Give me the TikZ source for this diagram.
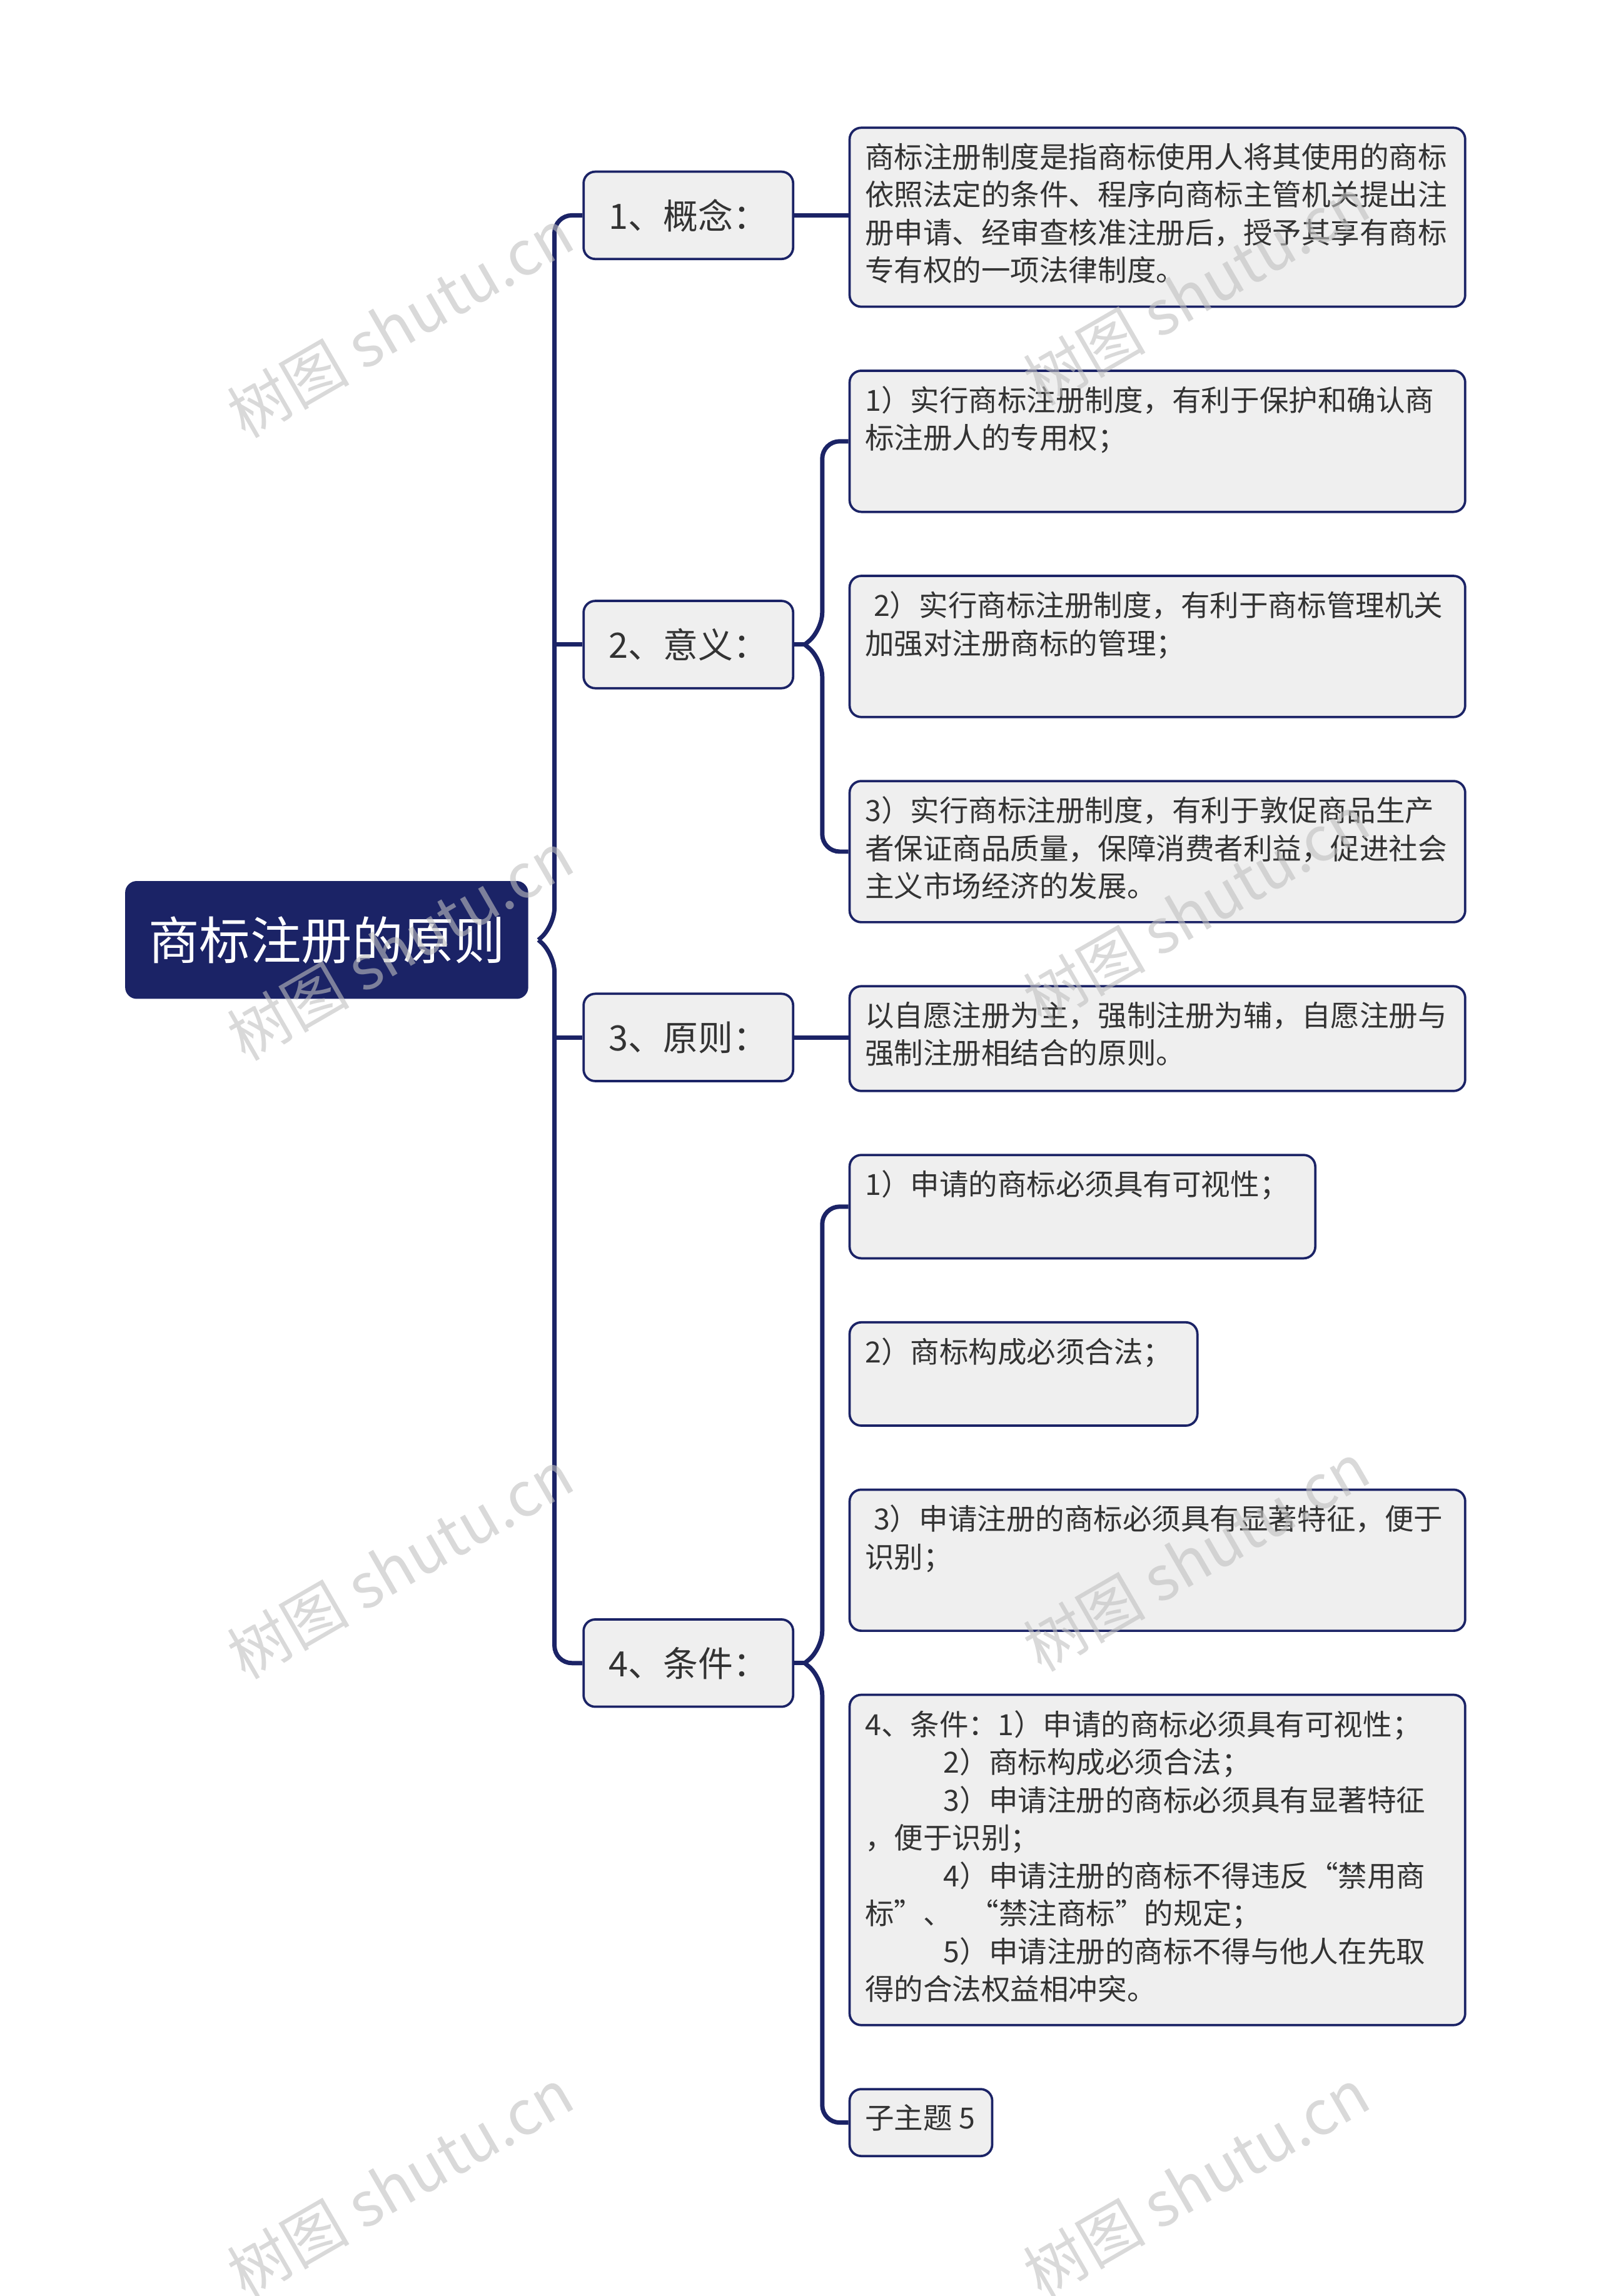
\documentclass[tikz,border=0pt]{standalone}
\usepackage{fontspec}
\usetikzlibrary{calc}
\setmainfont{Noto Sans CJK SC}
\begin{document}
\begin{tikzpicture}[x=0.5pt,y=-0.5pt,
  conn/.style={draw=navy,line width=1.5pt,rounded corners=6pt},
  lone/.style={draw=navy,line width=0.8pt,fill=boxfill,rounded corners=4pt,minimum width=72pt,minimum height=30pt,font=\fontsize{12}{14}\selectfont,text=txt},
  ltwo/.style={draw=navy,line width=0.8pt,fill=boxfill,rounded corners=4pt,anchor=north west,inner sep=0pt},
  ttwo/.style={anchor=north west,inner sep=0pt,align=left,font=\fontsize{10}{13}\selectfont,text=txt},
  wm/.style={rotate=30,text=black!25,opacity=0.6,font=\fontsize{21}{21}\selectfont}]
\definecolor{navy}{HTML}{1B2366}
\definecolor{boxfill}{HTML}{EFEFEF}
\definecolor{txt}{HTML}{333333}
\useasboundingbox (0,0) rectangle (1100,1578);
% root
\node[fill=navy,rounded corners=4pt,minimum width=138.5pt,minimum height=40.5pt,text=white,font=\fontsize{17.5}{19}\selectfont] (root) at (224.5,646) {商标注册的原则};
% level 1
\node[lone] (a1) at (473,148) {1、概念：};
\node[lone] (a2) at (473,443) {2、意义：};
\node[lone] (a3) at (473,713) {3、原则：};
\node[lone] (a4) at (473,1143) {4、条件：};
% level 2 boxes
\node[ltwo,minimum width=211.5pt,minimum height=61.5pt] (c1) at (583,87) {};
\node[ltwo,minimum width=211.5pt,minimum height=48.5pt] (c21) at (583,254) {};
\node[ltwo,minimum width=211.5pt,minimum height=48.5pt] (c22) at (583,395) {};
\node[ltwo,minimum width=211.5pt,minimum height=48.5pt] (c23) at (583,536) {};
\node[ltwo,minimum width=211.5pt,minimum height=36pt] (c3) at (583,677) {};
\node[ltwo,minimum width=160pt,minimum height=35.5pt] (c41) at (583,793) {};
\node[ltwo,minimum width=119.5pt,minimum height=35.5pt] (c42) at (583,908) {};
\node[ltwo,minimum width=211.5pt,minimum height=48.5pt] (c43) at (583,1023) {};
\node[ltwo,minimum width=211.5pt,minimum height=113.5pt] (c44) at (583,1164) {};
\node[ltwo,minimum width=49pt,minimum height=23pt] (c45) at (583,1435) {};
% texts
\node[ttwo] (t1) at (594,98) {商标注册制度是指商标使用人将其使用的商标\\依照法定的条件、程序向商标主管机关提出注\\册申请、经审查核准注册后，授予其享有商标\\专有权的一项法律制度。};
\node[ttwo] (t21) at (594,265) {1）实行商标注册制度，有利于保护和确认商\\标注册人的专用权；};
\node[ttwo] (t22) at (594,406) {\hspace*{3pt}2）实行商标注册制度，有利于商标管理机关\\加强对注册商标的管理；};
\node[ttwo] (t23) at (594,547) {3）实行商标注册制度，有利于敦促商品生产\\者保证商品质量，保障消费者利益，促进社会\\主义市场经济的发展。};
\node[ttwo] (t3) at (594,688) {以自愿注册为主，强制注册为辅，自愿注册与\\强制注册相结合的原则。};
\node[ttwo] (t41) at (594,804) {1）申请的商标必须具有可视性；};
\node[ttwo] (t42) at (594,919) {2）商标构成必须合法；};
\node[ttwo] (t43) at (594,1034) {\hspace*{3pt}3）申请注册的商标必须具有显著特征，便于\\识别；};
\node[ttwo] (t44) at (594,1175) {4、条件：1）申请的商标必须具有可视性；\\\hspace*{27pt}2）商标构成必须合法；\\\hspace*{27pt}3）申请注册的商标必须具有显著特征\\，便于识别；\\\hspace*{27pt}4）申请注册的商标不得违反“禁用商\\标”、\hspace*{6pt}“禁注商标”的规定；\\\hspace*{27pt}5）申请注册的商标不得与他人在先取\\得的合法权益相冲突。};
\node[ttwo] (t45) at (594,1446) {子主题 5};
% main bracket
\coordinate (tip) at (370,646);
\coordinate (bus) at (381,646);
\draw[conn] (a1.west) -- (a1.west -| bus) -- ($(bus)+(0,-10)$) -- (tip);
\draw[conn] (a4.west) -- (a4.west -| bus) -- ($(bus)+(0,10)$) -- (tip);
\draw[conn] (a2.west) -- (a2.west -| bus);
\draw[conn] (a3.west) -- (a3.west -| bus);
% simple connectors
\draw[conn] (a1.east) -- (c1.west |- a1.east);
\draw[conn] (a3.east) -- (c3.west |- a3.east);
% bracket 2
\coordinate (tip2) at (553,443);
\coordinate (bus2) at (565,443);
\draw[conn] (c21.west) -- (c21.west -| bus2) -- ($(bus2)+(0,-10)$) -- (tip2);
\draw[conn] (c23.west) -- (c23.west -| bus2) -- ($(bus2)+(0,10)$) -- (tip2);
\draw[conn] (a2.east) -- (tip2);
% bracket 4
\coordinate (tip4) at (553,1143);
\coordinate (bus4) at (565,1143);
\draw[conn] (c41.west) -- (c41.west -| bus4) -- ($(bus4)+(0,-10)$) -- (tip4);
\draw[conn] (c45.west) -- (c45.west -| bus4) -- ($(bus4)+(0,10)$) -- (tip4);
\draw[conn] (a4.east) -- (tip4);
% watermarks
\foreach \i/\x/\y in {1/275/222,2/275/650,3/275/1075,4/275/1500,5/822/200,6/822/625,7/822/1070,8/822/1500}
  \node[wm] (w\i) at (\x,\y) {树图 shutu.cn};
\end{tikzpicture}
\end{document}
